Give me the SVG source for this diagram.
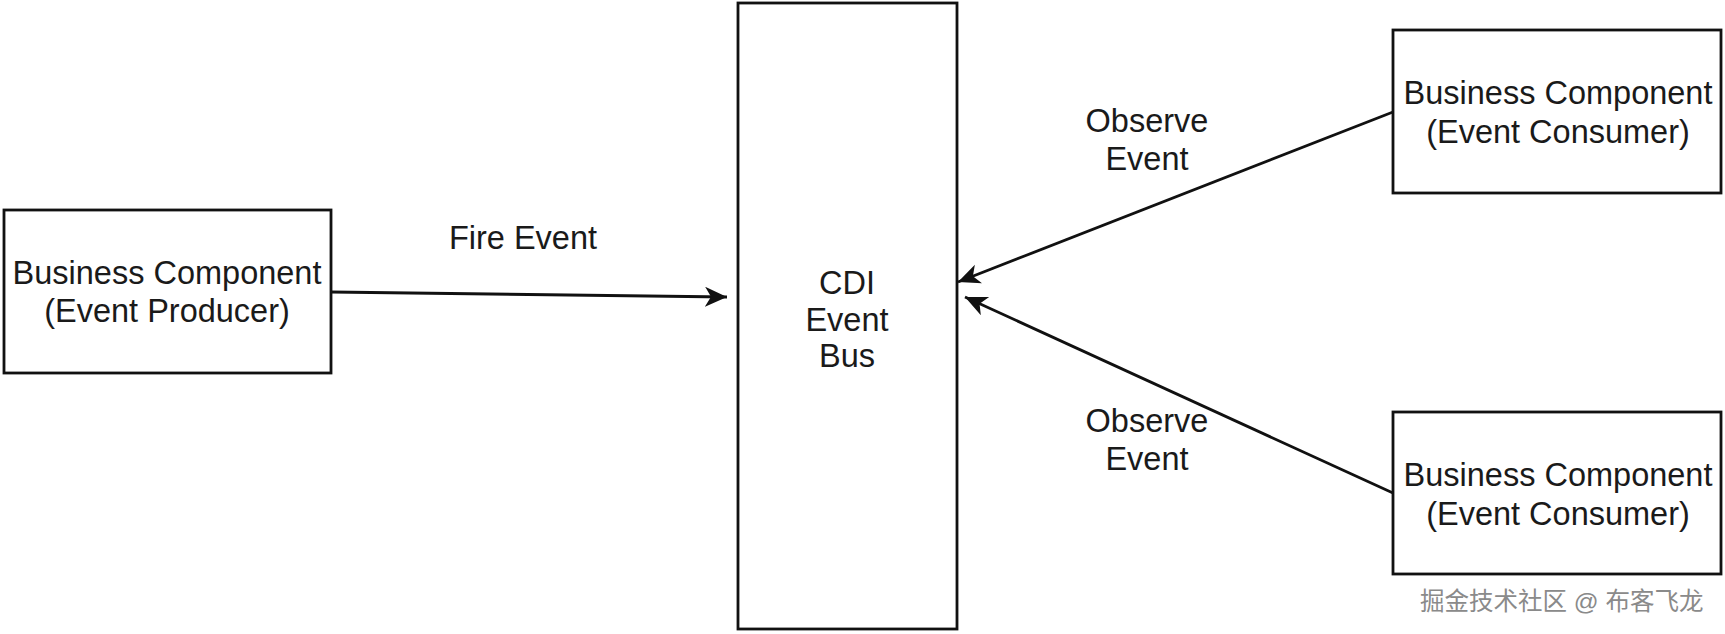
<svg xmlns="http://www.w3.org/2000/svg" width="1725" height="634" viewBox="0 0 1725 634">
<defs>
<style>
.box{fill:#fff;stroke:#111;stroke-width:2.8}
.t{font-family:"Liberation Sans",Arial,sans-serif;font-size:32.5px;fill:#1a1a1a;text-anchor:middle}
.edge{fill:none;stroke:#111;stroke-width:2.8}
.wm{font-family:"Liberation Sans","Noto Sans CJK SC",sans-serif;font-size:24.5px;fill:#8a8a8a;stroke:#fff;stroke-width:0.6;paint-order:stroke}
</style>
<marker id="arr" markerUnits="userSpaceOnUse" markerWidth="24" markerHeight="22" refX="22" refY="10" orient="auto" viewBox="0 0 24 22">
<path d="M0,0 L22,10 L0,20 L6,10 z" fill="#111"/>
</marker>
</defs>
<rect width="1725" height="634" fill="#fff"/>
<g id="producer">
<rect class="box" x="4" y="210" width="327" height="163"/>
<text class="t" x="167" y="284">Business Component</text>
<text class="t" x="167" y="322">(Event Producer)</text>
</g>
<g id="bus">
<rect class="box" x="738" y="3" width="219" height="626"/>
<text class="t" x="847" y="294">CDI</text>
<text class="t" x="847" y="331">Event</text>
<text class="t" x="847" y="367">Bus</text>
</g>
<g id="consumer1">
<rect class="box" x="1393" y="30" width="328" height="163"/>
<text class="t" x="1558" y="104">Business Component</text>
<text class="t" x="1558" y="143">(Event Consumer)</text>
</g>
<g id="consumer2">
<rect class="box" x="1393" y="412" width="328" height="162"/>
<text class="t" x="1558" y="486">Business Component</text>
<text class="t" x="1558" y="525">(Event Consumer)</text>
</g>
<g id="connectors">
<line class="edge" x1="331" y1="292" x2="727" y2="297" marker-end="url(#arr)"/>
<text class="t" x="523" y="249">Fire Event</text>
<line class="edge" x1="1393" y1="112" x2="958" y2="282" marker-end="url(#arr)"/>
<text class="t" x="1147" y="132">Observe</text>
<text class="t" x="1147" y="170">Event</text>
<line class="edge" x1="1393" y1="493" x2="965" y2="297" marker-end="url(#arr)"/>
<text class="t" x="1147" y="432">Observe</text>
<text class="t" x="1147" y="470">Event</text>
</g>
<text class="wm" x="1420" y="610">掘金技术社区 @ 布客飞龙</text>
</svg>
